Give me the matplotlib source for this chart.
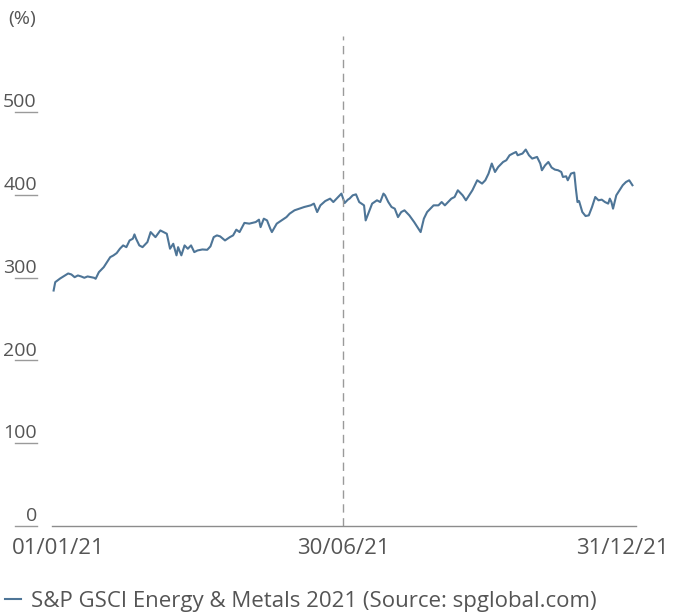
import matplotlib
matplotlib.use("Agg")
import matplotlib.pyplot as plt
import matplotlib.transforms as mtransforms

plt.rcParams['font.family'] = ['Open Sans', 'DejaVu Sans']

# dias desde 01/01/21 y valor del indice (%)
dias = [1, 2, 5, 8, 10, 12, 14, 16, 18, 20, 22, 26, 27, 29, 32, 34, 36, 38, 40, 42,
        44, 46, 48, 50, 51, 52, 54, 56, 59, 61, 63, 64, 67, 69, 71, 73, 75, 77, 78, 80,
        82, 84, 86, 88, 90, 93, 96, 98, 100, 102, 104, 107, 110, 112, 114, 116, 119, 122, 126, 128,
        129, 131, 133, 135, 136, 139, 142, 145, 147, 150, 153, 156, 160, 162, 164, 166, 169, 172, 174, 177,
        179, 181, 183, 184, 186, 188, 190, 193, 194, 196, 198, 201, 203, 205, 206, 208, 210, 212, 214, 216,
        218, 221, 224, 228, 230, 232, 234, 236, 239, 241, 243, 245, 247, 249, 251, 254, 256, 260, 263, 266,
        268, 270, 272, 274, 276, 279, 281, 283, 285, 287, 288, 291, 293, 295, 297, 300, 302, 303, 305, 307,
        309, 311, 313, 315, 316, 318, 319, 321, 323, 324, 325, 326, 328, 330, 332, 334, 336, 338, 340, 342,
        344, 345, 346, 347, 349, 351, 353, 355, 357, 359]
valores = [284.5, 294.6, 299.0, 302.7, 305.1, 303.9, 300.6, 302.7, 301.5, 299.9, 301.5, 299.9, 298.7, 306.7, 312.7, 318.8, 324.8, 326.9, 329.7, 335.0,
           339.0, 336.9, 345.0, 347.1, 352.3, 347.1, 339.0, 336.9, 343.0, 355.1, 351.1, 349.0, 357.1, 355.1, 353.1, 335.0, 341.0, 327.0, 336.9, 327.0,
           339.0, 335.0, 339.0, 330.9, 332.9, 334.1, 333.7, 337.8, 349.0, 351.1, 349.9, 345.0, 349.0, 351.1, 358.0, 355.1, 366.2, 365.3, 367.2, 370.1,
           361.1, 371.3, 369.2, 359.2, 355.1, 365.3, 369.2, 373.2, 377.4, 381.4, 383.4, 385.4, 387.4, 389.5, 379.3, 387.4, 392.6, 395.5, 391.4, 397.5,
           401.6, 390.2, 394.3, 395.5, 399.5, 400.7, 391.4, 387.4, 369.2, 379.3, 389.5, 393.5, 391.4, 401.6, 399.5, 391.4, 385.4, 383.4, 373.2, 379.3,
           381.4, 375.3, 367.2, 355.1, 371.3, 379.3, 383.4, 387.4, 387.4, 391.4, 387.4, 391.4, 395.5, 397.5, 405.6, 399.5, 393.5, 405.6, 417.7, 413.7,
           417.7, 425.8, 437.9, 427.7, 433.8, 439.8, 441.9, 447.9, 450.0, 451.9, 447.9, 450.0, 454.8, 447.9, 443.9, 445.9, 437.9, 429.8, 435.8, 439.8,
           433.1, 430.6, 429.8, 427.7, 421.7, 422.5, 417.7, 425.8, 427.0, 407.6, 391.4, 392.6, 379.3, 374.5, 375.3, 385.4, 397.5, 393.5, 394.3, 391.4,
           389.5, 395.5, 391.4, 383.4, 399.5, 405.6, 411.7, 415.6, 417.7, 411.7]

dia_corte = 180
ticks_x = [4, 180, 353]
etiquetas_x = ['01/01/21', '30/06/21', '31/12/21']
ticks_y = [0, 100, 200, 300, 400, 500]

color_texto = '#555555'
color_linea = '#4e7597'

fig = plt.figure(figsize=(6.73, 6.12), dpi=100)
ax = fig.add_axes([52 / 673, 86 / 612, 584 / 673, 490 / 612])

ax.plot(dias, valores, color=color_linea, linewidth=1.5,
        label='S&P GSCI Energy & Metals 2021 (Source: spglobal.com)')
ax.axvline(dia_corte, color='#9a9a9a', linewidth=1, linestyle=(0, (6, 4)))

ax.set_xlim(0, 361.2)
ax.set_ylim(0, 592)

for lado in ['top', 'right', 'left']:
    ax.spines[lado].set_visible(False)
ax.spines['bottom'].set_color('#8c8c8c')
ax.spines['bottom'].set_linewidth(1)

ax.set_yticks([])
ax.set_xticks(ticks_x)
ax.set_xticklabels(etiquetas_x, fontsize=16, color=color_texto)
ax.tick_params(axis='x', length=0, pad=9)

# etiquetas del eje y subrayadas
trans = mtransforms.blended_transform_factory(ax.transAxes, ax.transData)
for v in ticks_y:
    ax.plot([-0.064, -0.026], [v, v], transform=trans, color='#9a9a9a',
            linewidth=1, clip_on=False)
    ax.annotate(str(v), xy=(-0.026, v), xycoords=trans, xytext=(0, 3.5),
                textcoords='offset points', ha='right', va='baseline',
                fontsize=14, color=color_texto, annotation_clip=False)

fig.text(8 / 673, 1 - 19 / 612, '(%)', fontsize=14, color=color_texto, va='center')

ax.legend(loc='center left', bbox_to_anchor=(5 / 673, 1 - 601 / 612),
          bbox_transform=fig.transFigure, frameon=False, handlelength=0.7,
          handletextpad=0.45, borderpad=0, borderaxespad=0,
          fontsize=16, labelcolor=color_texto)

fig.savefig('out.png', dpi=100)
